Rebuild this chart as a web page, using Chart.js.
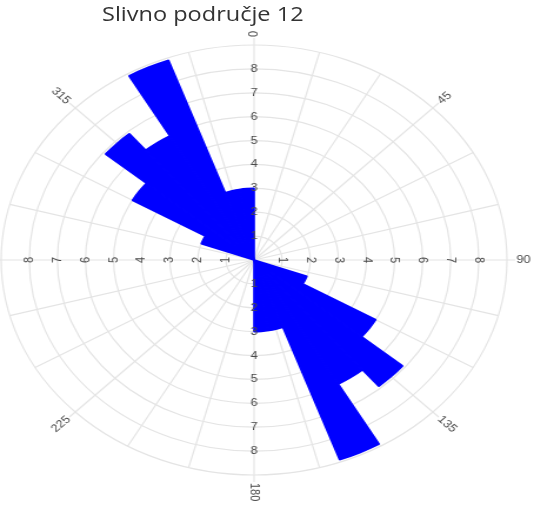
<!DOCTYPE html>
<html>
<head>
<meta charset="utf-8">
<script src="https://cdn.jsdelivr.net/npm/chart.js@4.4.0/dist/chart.umd.min.js"></script>
<style>
  body { margin: 0; background: #fff; }
  #okvir { position: relative; width: 554px; height: 525px; overflow: hidden; }
  #naslov {
    position: absolute; left: 102px; top: 4px; z-index: 2;
    font: 20px "Open Sans", sans-serif; line-height: 20px;
    color: #333; white-space: nowrap;
    transform: scaleX(1.176); transform-origin: left top;
  }
  #graf { position: absolute; left: 0; top: 0; }
</style>
</head>
<body>
<div id="okvir">
  <div id="naslov"></div>
  <!-- the original picture is stretched sideways, so the canvas is too -->
  <canvas id="graf" width="471" height="525" style="width:554px;height:525px"></canvas>
</div>
<script>
const naslov = "Slivno područje 12";

// 10 degree bins, clockwise from north (start of each bin)
const smjerovi = [
  "0", "10", "20", "30", "40", "50", "60", "70", "80",
  "90", "100", "110", "120", "130", "140", "150", "160", "170",
  "180", "190", "200", "210", "220", "230", "240", "250", "260",
  "270", "280", "290", "300", "310", "320", "330", "340", "350"
];

const vrijednosti = [
  0, 0, 0, 0, 0, 0, 0, 0, 0,
  0, 0, 2.0, 5.0, 6.9, 6.0, 8.9, 3.0, 3.0,
  0, 0, 0, 0, 0, 0, 0, 0, 0,
  0, 0, 2.0, 5.0, 6.9, 6.0, 8.9, 3.0, 3.0
];

const radijalneOznake = [1, 2, 3, 4, 5, 6, 7, 8];
const kutneOznake = [0, 45, 90, 135, 180, 225, 270, 315];
const maksimum = 9;
const korakZrake = 15;

document.getElementById("naslov").textContent = naslov;

const bojaMreze = "#e4e4e4";
const bojaTeksta = "#4a4a4a";

const ruzaPlugin = {
  id: "ruza",

  beforeDatasetsDraw(chart) {
    const r = chart.scales.r;
    const ctx = chart.ctx;

    ctx.save();
    ctx.strokeStyle = bojaMreze;
    ctx.lineWidth = 1.2;

    for (let kut = 0; kut < 360; kut += korakZrake) {
      const a = ((kut - 90) * Math.PI) / 180;
      const duljina = r.drawingArea + (kut % 45 === 0 ? 7 : 0);

      ctx.beginPath();
      ctx.moveTo(r.xCenter, r.yCenter);
      ctx.lineTo(
        r.xCenter + Math.cos(a) * duljina,
        r.yCenter + Math.sin(a) * duljina,
      );
      ctx.stroke();
    }

    ctx.restore();
  },

  afterDatasetsDraw(chart) {
    const r = chart.scales.r;
    const ctx = chart.ctx;

    ctx.save();
    ctx.fillStyle = bojaTeksta;
    ctx.font = '11px "Liberation Sans", Arial, sans-serif';
    ctx.textAlign = "center";
    ctx.textBaseline = "middle";

    // radial values on all four axes
    radijalneOznake.forEach((v) => {
      const d = r.getDistanceFromCenterForValue(v);
      const mjesta = [
        [0, -d, 0],
        [0, d, 0],
        [d, 0, Math.PI / 2],
        [-d, 0, -Math.PI / 2],
      ];

      mjesta.forEach(([dx, dy, rot]) => {
        ctx.save();
        ctx.translate(r.xCenter + dx, r.yCenter + dy);
        ctx.rotate(rot);
        ctx.fillText(String(v), 0, 0);
        ctx.restore();
      });
    });

    // direction labels round the outside
    kutneOznake.forEach((kut) => {
      const tekst = String(kut);
      const sirina = ctx.measureText(tekst).width;
      const a = ((kut - 90) * Math.PI) / 180;
      const d = r.drawingArea + 8 + sirina / 2;

      let rot = kut - 90;
      if (rot > 90) rot -= 180;

      ctx.save();
      ctx.translate(r.xCenter + Math.cos(a) * d, r.yCenter + Math.sin(a) * d);
      ctx.rotate((rot * Math.PI) / 180);
      ctx.fillText(tekst, 0, 0);
      ctx.restore();
    });

    ctx.restore();
  },
};

new Chart(document.getElementById("graf"), {
  type: "polarArea",

  data: {
    labels: smjerovi,

    datasets: [
      {
        data: vrijednosti,
        backgroundColor: "#0000ff",
        borderColor: "#0000ff",
        borderWidth: (c) => (c.raw > 0 ? 1.6 : 0),
      },
    ],
  },

  options: {
    responsive: false,
    animation: false,

    layout: {
      padding: { left: 1, right: 40, top: 45, bottom: 49 },
    },

    plugins: {
      legend: { display: false },
      tooltip: { enabled: false },
    },

    scales: {
      r: {
        min: 0,
        max: maksimum,
        ticks: { display: false, stepSize: 1 },
        grid: { color: bojaMreze, lineWidth: 1.2, circular: true },
        angleLines: { display: false },
        pointLabels: { display: false },
      },
    },
  },

  plugins: [ruzaPlugin],
});
</script>
</body>
</html>
